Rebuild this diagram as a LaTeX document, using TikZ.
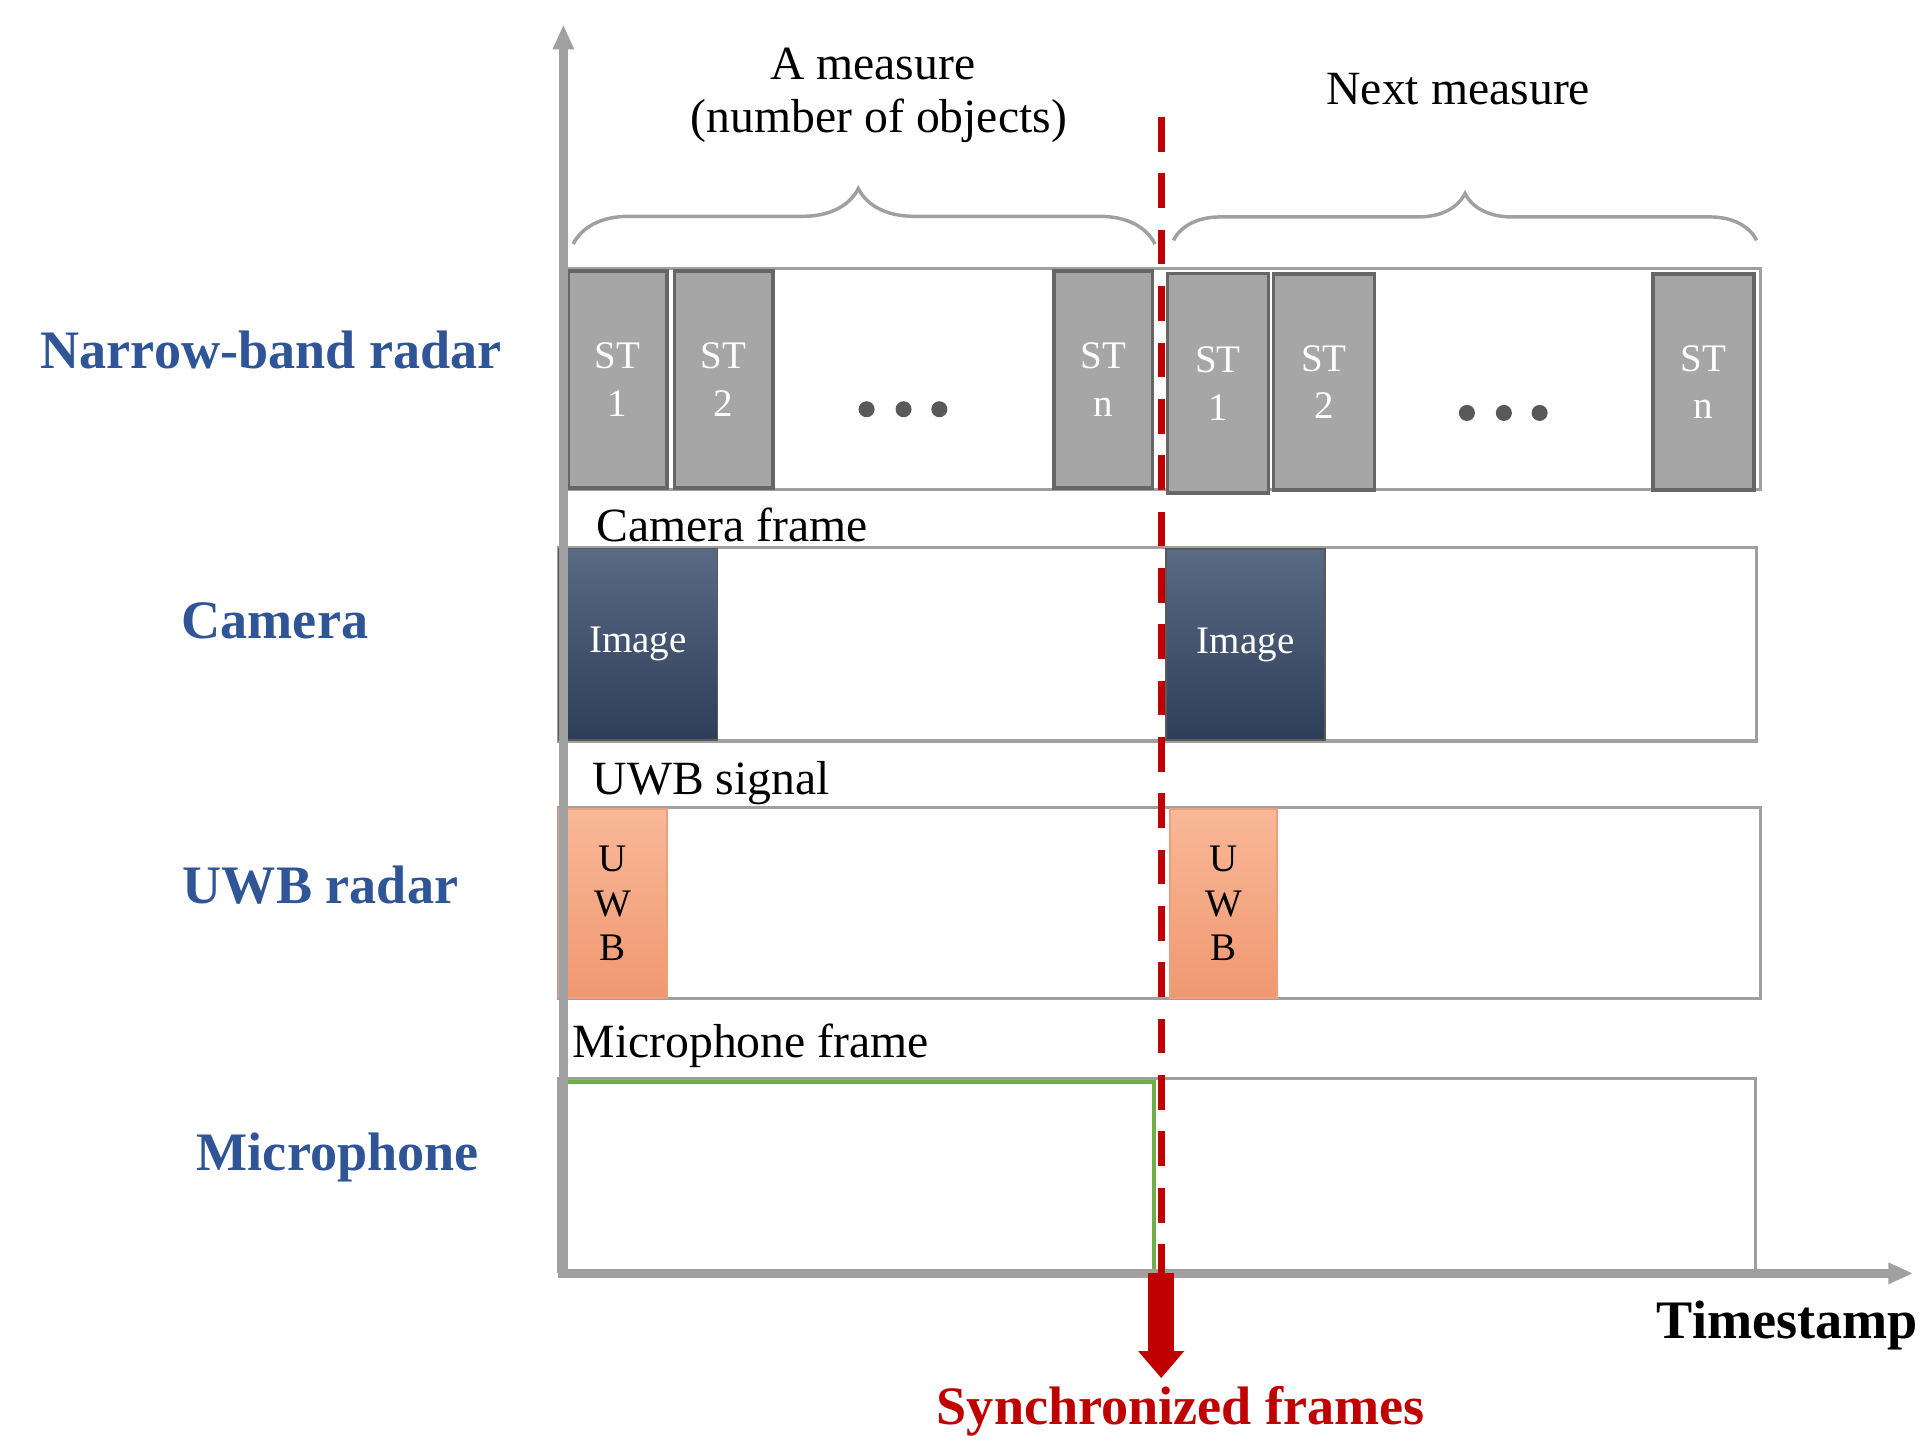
\documentclass[tikz,border=0pt]{standalone}
\usepackage{fontspec}
\setmainfont{Liberation Serif}
\usetikzlibrary{arrows.meta,decorations.pathreplacing}
\definecolor{lblue}{HTML}{2F5597}
\definecolor{dred}{HTML}{C00000}
\definecolor{gbox}{HTML}{A6A6A6}
\definecolor{gline}{HTML}{A0A0A0}
\definecolor{imgtop}{HTML}{5A6A85}
\definecolor{imgbot}{HTML}{2E3D58}
\definecolor{uwbdraw}{HTML}{E8A080}
\definecolor{uwbtop}{HTML}{F8B898}
\definecolor{uwbbot}{HTML}{F09870}
\definecolor{mgreen}{HTML}{70AD47}
\begin{document}
\begin{tikzpicture}[x=0.01cm,y=-0.01cm,
  lab/.style={font=\fontsize{12.5}{15}\selectfont\bfseries,text=lblue},
  txt/.style={font=\fontsize{11}{13}\selectfont},
  frame/.style={draw=gline,line width=0.8pt},
  st/.style={draw=gray!80!black,fill=gbox,line width=0.8pt,text=white,font=\fontsize{9}{11}\selectfont,align=center,inner sep=0pt},
  img/.style={draw=gray!70!black,top color=imgtop,bottom color=imgbot,text=white,font=\fontsize{9}{11}\selectfont,inner sep=0pt},
  uwb/.style={draw=uwbdraw,top color=uwbtop,bottom color=uwbbot,font=\fontsize{9}{10.3}\selectfont,align=center,inner sep=0pt},
  dot/.style={circle,fill=gray!70!black,inner sep=0pt,minimum size=0.13cm}]
\useasboundingbox (0,0) rectangle (1560,1180);
% frames
\draw[frame] (459,218) rectangle (1428,397);
\draw[frame] (453,444) rectangle (1425,601);
\draw[frame] (453,655) rectangle (1428,810);
\draw[frame] (453,875) rectangle (1424,1031);
\draw[draw=mgreen,line width=1pt] (455,878) rectangle (936,1031);
% ST boxes
\node[st,minimum width=0.80cm,minimum height=1.76cm] (s1) at (501,308) {ST\\1};
\node[st,minimum width=0.80cm,minimum height=1.76cm] (s2) at (587,308) {ST\\2};
\node[st,minimum width=0.80cm,minimum height=1.76cm] (sn) at (895,308) {ST\\n};
\node[st,minimum width=0.82cm,minimum height=1.78cm] (t1) at (988,311) {ST\\1};
\node[st,minimum width=0.82cm,minimum height=1.75cm] (t2) at (1074,310) {ST\\2};
\node[st,minimum width=0.82cm,minimum height=1.75cm] (tn) at (1382,310) {ST\\n};
\foreach \i/\x in {a/703,b/733,c/762} \node[dot] (d\i) at (\x,332) {};
\foreach \i/\x in {a/1190,b/1220,c/1249} \node[dot] (e\i) at (\x,335) {};
% images
\node[img,minimum width=1.29cm,minimum height=1.55cm] (i1) at (517.5,522.5) {Image};
\node[img,minimum width=1.29cm,minimum height=1.55cm] (i2) at (1010.5,523) {Image};
% uwb
\node[uwb,minimum width=0.88cm,minimum height=1.53cm] (u1) at (497,733) {U\\W\\B};
\node[uwb,minimum width=0.87cm,minimum height=1.53cm] (u2) at (992.5,733) {U\\W\\B};
% axes
\draw[gline,line width=2.2pt,-{Triangle[length=0.2cm,width=0.16cm]}] (457,1035) -- (457,20);
\draw[gline,line width=2.2pt,-{Triangle[length=0.2cm,width=0.16cm]}] (453,1033) -- (1552,1033);
% sync line
\draw[dred,line width=1.6pt,dash pattern=on 8pt off 5pt] (942,95) -- (942,1033);
\draw[dred,line width=6pt,-{Triangle[length=0.22cm,width=0.36cm]}] (942,1033) -- (942,1118);
% braces
\draw[gline,line width=0.8pt,decorate,decoration={brace,amplitude=0.45cm,aspect=0.49}] (465,198) -- (937,198);
\draw[gline,line width=0.8pt,decorate,decoration={brace,amplitude=0.38cm}] (952,195) -- (1425,195);
% texts
\node[txt] (m1) at (708,52) {A measure};
\node[txt] (m2) at (713,98) {(number of objects)};
\node[txt] (m3) at (1183,72) {Next measure};
\node[txt] (cf) at (594,426) {Camera frame};
\node[txt] (us) at (577,635) {UWB signal};
\node[txt] (mf) at (609,848) {Microphone frame};
\node[lab] (l1) at (220,284) {Narrow-band radar};
\node[lab] (l2) at (223,504) {Camera};
\node[lab] (l3) at (260,718) {UWB radar};
\node[lab] (l4) at (274,939) {Microphone};
\node[font=\fontsize{12.5}{15}\selectfont\bfseries] (ts) at (1450,1075) {Timestamp};
\node[font=\fontsize{12.5}{15}\selectfont\bfseries,text=dred] (sf) at (958,1145) {Synchronized frames};
\end{tikzpicture}
\end{document}
